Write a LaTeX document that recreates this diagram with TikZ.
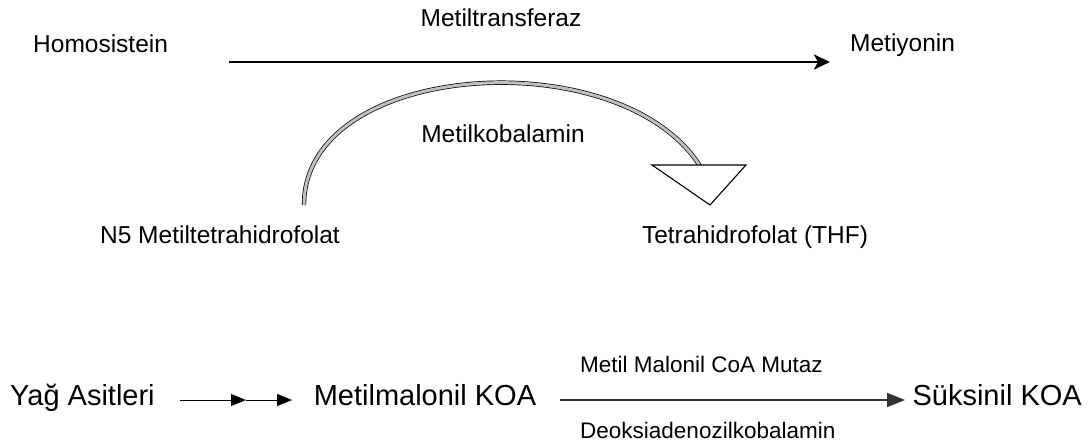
\documentclass[tikz,border=0pt]{standalone}
\usepackage{fontspec}
\setmainfont{Liberation Sans}
\usetikzlibrary{arrows.meta}
\begin{document}
\begin{tikzpicture}[x=1pt,y=-1pt,
  lbl/.style={inner sep=0pt,font=\fontsize{24.5}{26}\selectfont},
  big/.style={inner sep=0pt,font=\fontsize{29}{31}\selectfont},
  sml/.style={inner sep=0pt,font=\fontsize{22.5}{24}\selectfont},
  thickarrow/.style={line width=2.6pt,-{Stealth[length=16pt,width=15pt,inset=4pt]}},
  thinarrow/.style={line width=1pt,-{Triangle[length=15pt,width=12pt]}},
  midarrow/.style={line width=1.8pt,draw=black!80,-{Triangle[length=18pt,width=14pt]}}]
\useasboundingbox (0,0) rectangle (1090,441);
% top reaction
\node[lbl,anchor=base west] (homo) at (33,53) {Homosistein};
\node[lbl,anchor=base west] (metiyonin) at (850,52) {Metiyonin};
\node[lbl,anchor=base] (mtr) at (501,27) {Metiltransferaz};
\coordinate (a1) at (229,62);
\coordinate (a2) at (830,62);
\draw[thickarrow] (a1) -- (a2);
\node[lbl,anchor=base] (mcbl) at (503,143) {Metilkobalamin};
\node[lbl,anchor=base east] (n5) at (340,243) {N5 Metiltetrahidrofolat};
\node[lbl,anchor=base] (thf) at (755,243) {Tetrahidrofolat (THF)};
% curved arrow
\coordinate (c0) at (304,205);
\coordinate (c3) at (700,166);
\draw[line width=0.7pt,double=black!25,double distance=3pt]
  (c0) .. controls (304,60) and (620,40) .. (c3);
\coordinate (t1) at (652,165);
\coordinate (t2) at (746,165);
\coordinate (t3) at (710,205);
\draw[line width=1.1pt,fill=white,line join=miter] (t1) -- (t2) -- (t3) -- cycle;
% bottom reaction
\node[big,anchor=base west] (yag) at (10,405) {Yağ Asitleri};
\node[big,anchor=base] (mmk) at (425,405) {Metilmalonil KOA};
\node[big,anchor=base east] (suk) at (1082,405) {Süksinil KOA};
\node[sml,anchor=base west] (mut) at (580,372) {Metil Malonil CoA Mutaz};
\node[sml,anchor=base west] (deo) at (580,438) {Deoksiadenozilkobalamin};
\coordinate (b1) at (180,400);
\coordinate (b2) at (246,400);
\coordinate (b3) at (292,400);
\draw[thinarrow] (b1) -- (b2);
\draw[thinarrow] (b2) -- (b3);
\coordinate (d1) at (560,400);
\coordinate (d2) at (905,400);
\draw[midarrow] (d1) -- (d2);
\end{tikzpicture}
\end{document}
